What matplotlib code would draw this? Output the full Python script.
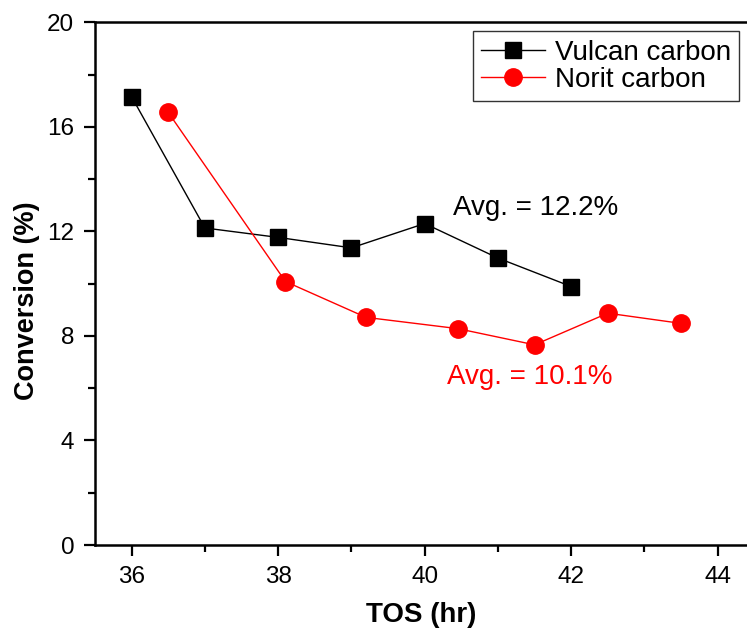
import matplotlib
matplotlib.use("Agg")
import matplotlib.pyplot as plt
from matplotlib.ticker import MultipleLocator

plt.rcParams['font.family'] = ['Liberation Sans', 'DejaVu Sans']

# Time on stream (hr) and conversion (%) for each carbon support
vulcan_tos = [36, 37, 38, 39, 40, 41, 42]
vulcan_conv = [17.15, 12.13, 11.77, 11.37, 12.30, 10.98, 9.89]

norit_tos = [36.5, 38.1, 39.2, 40.45, 41.5, 42.5, 43.5]
norit_conv = [16.55, 10.08, 8.71, 8.28, 7.66, 8.87, 8.48]

vulcan_avg = "Avg. = 12.2%"
norit_avg = "Avg. = 10.1%"

fig = plt.figure(figsize=(7.47, 6.30), dpi=100)
ax = fig.add_axes([0.1272, 0.1349, 0.8728, 0.8297])

ax.plot(vulcan_tos, vulcan_conv, color='black', lw=1.0, marker='s',
        markersize=11, markerfacecolor='black', markeredgecolor='black',
        label='Vulcan carbon', zorder=3)
ax.plot(norit_tos, norit_conv, color='#ff0000', lw=1.0, marker='o',
        markersize=12.5, markerfacecolor='#ff0000', markeredgecolor='#ff0000',
        label='Norit carbon', zorder=3)

ax.set_xlim(35.5, 44.4)
ax.set_ylim(0, 20)
ax.xaxis.set_major_locator(MultipleLocator(2))
ax.xaxis.set_minor_locator(MultipleLocator(1))
ax.yaxis.set_major_locator(MultipleLocator(4))
ax.yaxis.set_minor_locator(MultipleLocator(2))

ax.tick_params(axis='both', which='major', direction='out', length=8,
               width=1.6, labelsize=17.5, pad=7)
ax.tick_params(axis='both', which='minor', direction='out', length=5,
               width=1.6)

for side in ('left', 'bottom', 'top'):
    ax.spines[side].set_linewidth(1.8)
ax.spines['right'].set_visible(False)

ax.set_xlabel('TOS (hr)', fontsize=20, fontweight='bold', labelpad=10)
ax.set_ylabel('Conversion (%)', fontsize=19.5, fontweight='bold')
ax.yaxis.set_label_coords(-0.085, 0.468)

ax.text(40.38, 12.91, vulcan_avg, fontsize=20, color='black',
        ha='left', va='center')
ax.text(40.31, 6.42, norit_avg, fontsize=20, color='#ff0000',
        ha='left', va='center')

leg = ax.legend(loc='upper right', bbox_to_anchor=(0.9877, 0.983),
                fontsize=20, frameon=True, fancybox=False, borderpad=0.3,
                handlelength=2.3, handletextpad=0.35, labelspacing=0.05,
                borderaxespad=0.0)
leg.get_frame().set_edgecolor('black')
leg.get_frame().set_linewidth(1.0)

fig.savefig('out.png', dpi=100)
